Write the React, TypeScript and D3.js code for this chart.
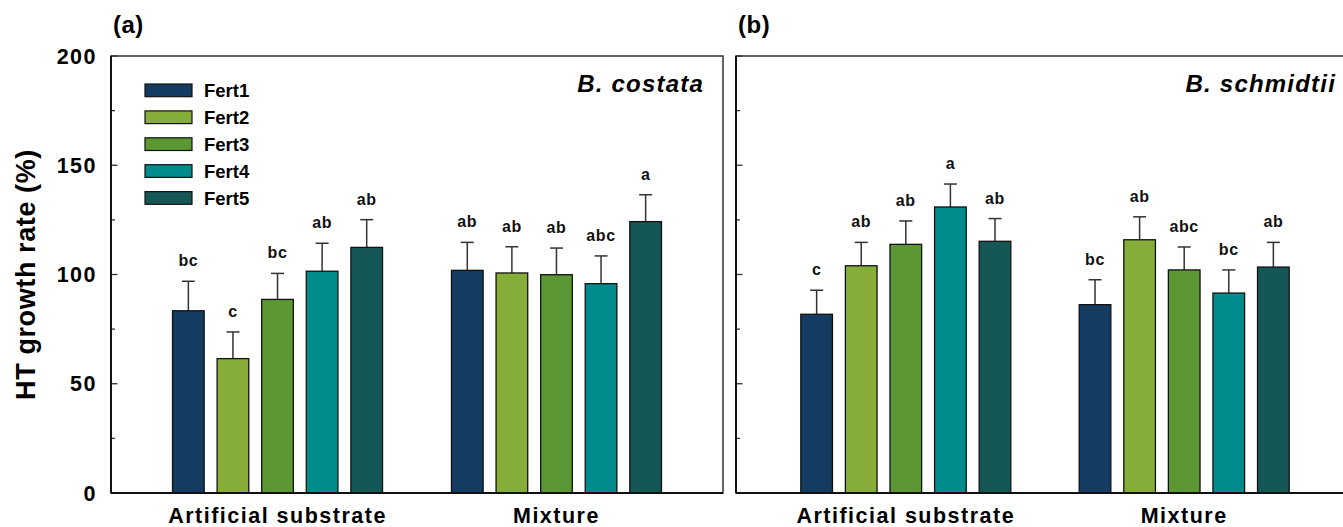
import React, { useEffect } from "react";
import * as d3 from "d3";

const groups = ["Artificial substrate", "Mixture"];
const ferts = ["Fert1", "Fert2", "Fert3", "Fert4", "Fert5"];
const colors = ["#143b61", "#87ad39", "#5b9732", "#008c8c", "#155755"];
const yTicks = [0, 50, 100, 150, 200];
const yMinorTicks = [25, 75, 125, 175];

// Panel (a) B. costata
const aArtificial = [83.4, 61.5, 88.6, 101.5, 112.4];
const aArtificialErr = [13.5, 12.2, 11.9, 12.8, 12.7];
const aArtificialLetters = ["bc", "c", "bc", "ab", "ab"];
const aMixture = [101.9, 100.7, 99.9, 95.8, 124.2];
const aMixtureErr = [12.8, 12.0, 12.2, 12.7, 12.3];
const aMixtureLetters = ["ab", "ab", "ab", "abc", "a"];

// Panel (b) B. schmidtii
const bArtificial = [81.8, 104.0, 113.8, 130.9, 115.2];
const bArtificialErr = [11.0, 10.7, 10.7, 10.5, 10.4];
const bArtificialLetters = ["c", "ab", "ab", "a", "ab"];
const bMixture = [86.2, 115.9, 102.1, 91.5, 103.4];
const bMixtureErr = [11.4, 10.5, 10.5, 10.6, 11.3];
const bMixtureLetters = ["bc", "ab", "abc", "bc", "ab"];

const FONT = "'Liberation Sans', Arial, sans-serif";
const TOP = 56;
const BOTTOM = 493;

const y = d3.scaleLinear().domain([0, 200]).range([BOTTOM, TOP]);
const inner = d3.scaleBand<string>().domain(ferts).range([-105, 105]).paddingInner(0.29).paddingOuter(0);

type PanelProps = {
  x0: number;
  x1: number;
  pad: number;
  label: string;
  species: string;
  speciesRight: number;
  values: number[][];
  errs: number[][];
  letters: string[][];
  showLabels: boolean;
  legend: boolean;
};

function Panel({ x0, x1, pad, label, species, speciesRight, values, errs, letters, showLabels, legend }: PanelProps) {
  const gx = d3.scalePoint<string>().domain(groups).range([x0, x1]).padding(pad);
  const bw = inner.bandwidth();
  return (
    <g>
      <text x={x0 + 2} y={33} fontSize={24} fontWeight="bold" fontFamily={FONT} letterSpacing={0.5}>{label}</text>
      <text x={speciesRight} y={92} fontSize={24} fontWeight="bold" fontStyle="italic" textAnchor="end" fontFamily={FONT} letterSpacing={1.2}>{species}</text>
      {groups.map((g, gi) => (
        <g key={g}>
          {ferts.map((f, fi) => {
            const v = values[gi][fi];
            const e = errs[gi][fi];
            const bx = (gx(g) as number) + (inner(f) as number);
            const cx = bx + bw / 2;
            return (
              <g key={f}>
                <line x1={cx} x2={cx} y1={y(v)} y2={y(v + e)} stroke="#333" strokeWidth={1.5} />
                <line x1={cx - 6.5} x2={cx + 6.5} y1={y(v + e)} y2={y(v + e)} stroke="#333" strokeWidth={1.5} />
                <rect x={bx} y={y(v)} width={bw} height={BOTTOM - y(v)} fill={colors[fi]} stroke="#111" strokeWidth={1.3} />
                <text x={cx} y={y(v + e) - 15} textAnchor="middle" fontSize={16} fontWeight="bold" fontFamily={FONT} fill="#111" letterSpacing={0.6}>{letters[gi][fi]}</text>
              </g>
            );
          })}
          <text x={gx(g) as number} y={523} textAnchor="middle" fontSize={21.5} fontWeight="bold" fontFamily={FONT} letterSpacing={1.5}>{g}</text>
        </g>
      ))}
      {yMinorTicks.map((t) => (
        <line key={"m" + t} x1={x0} x2={x0 + 4} y1={y(t)} y2={y(t)} stroke="#333" strokeWidth={1.3} />
      ))}
      {yTicks.map((t) => (
        <g key={"t" + t}>
          <line x1={x0} x2={x0 + 6.5} y1={y(t)} y2={y(t)} stroke="#333" strokeWidth={1.3} />
          {showLabels && (
            <text x={97} y={y(t)} dy="0.36em" textAnchor="end" fontSize={21.5} fontWeight="bold" fontFamily={FONT} letterSpacing={1.5}>{t}</text>
          )}
        </g>
      ))}
      <rect x={x0} y={TOP} width={x1 - x0} height={BOTTOM - TOP} fill="none" stroke="#333" strokeWidth={1.5} />
      <line x1={x0} x2={x1} y1={BOTTOM} y2={BOTTOM} stroke="#111" strokeWidth={2} />
      <line x1={x0} x2={x0} y1={TOP} y2={BOTTOM} stroke="#111" strokeWidth={2} />
      {legend &&
        ferts.map((f, i) => (
          <g key={"lg" + f}>
            <rect x={145} y={84 + i * 26.9} width={47} height={12.7} fill={colors[i]} stroke="#111" strokeWidth={1.2} />
            <text x={204} y={97 + i * 26.9} fontSize={18.5} fontWeight="bold" fontFamily={FONT}>{f}</text>
          </g>
        ))}
    </g>
  );
}

export default function App() {
  useEffect(() => {
    document.body.style.margin = "0";
  }, []);
  return (
    <svg width={1343} height={527} style={{ display: "block", background: "#fff" }}>
      <rect x={0} y={0} width={1343} height={527} fill="#fff" />
      <text transform={`translate(35,${(TOP + BOTTOM) / 2}) rotate(-90)`} textAnchor="middle" fontSize={27} fontWeight="bold" fontFamily={FONT} letterSpacing={0.6}>HT growth rate (%)</text>
      <Panel
        x0={111}
        x1={723}
        pad={0.597}
        label="(a)"
        species="B. costata"
        speciesRight={704}
        values={[aArtificial, aMixture]}
        errs={[aArtificialErr, aMixtureErr]}
        letters={[aArtificialLetters, aMixtureLetters]}
        showLabels={true}
        legend={true}
      />
      <Panel
        x0={736}
        x1={1354}
        pad={0.61}
        label="(b)"
        species="B. schmidtii"
        speciesRight={1336}
        values={[bArtificial, bMixture]}
        errs={[bArtificialErr, bMixtureErr]}
        letters={[bArtificialLetters, bMixtureLetters]}
        showLabels={false}
        legend={false}
      />
    </svg>
  );
}
